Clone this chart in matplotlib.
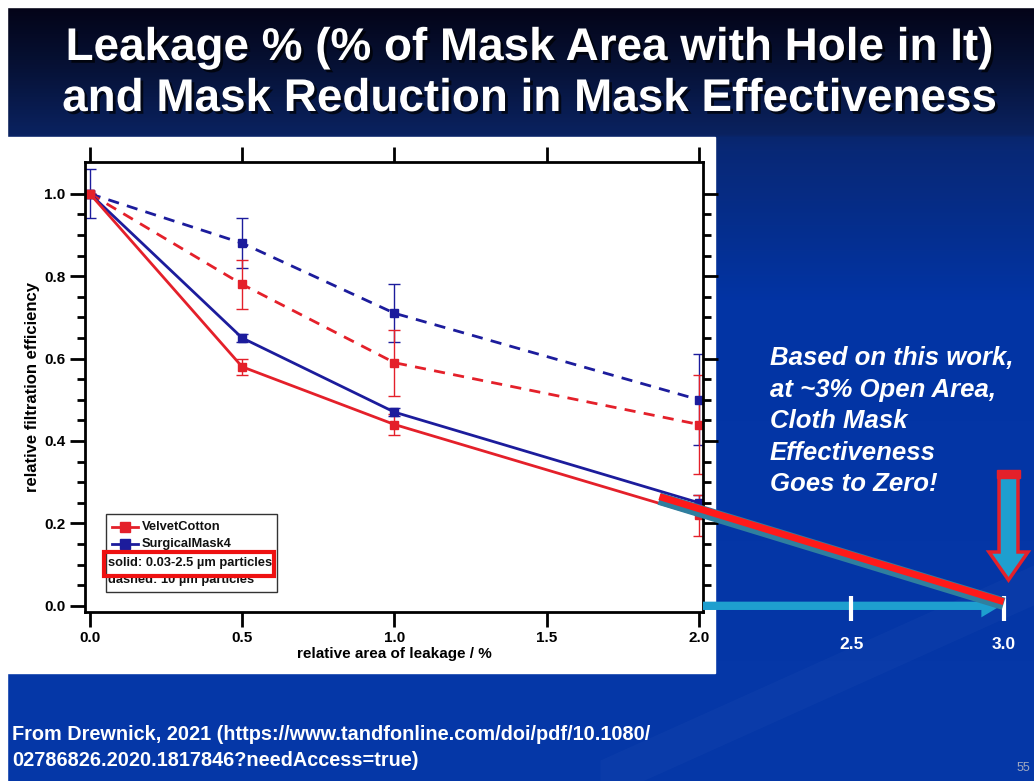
import numpy as np
import matplotlib
matplotlib.use("Agg")
import matplotlib.pyplot as plt
import matplotlib.patheffects as pe
from matplotlib.patches import Rectangle, Polygon
from matplotlib.lines import Line2D

plt.rcParams['font.family'] = ['Liberation Sans', 'DejaVu Sans']

# --- data ---
leakage = [0.0, 0.5, 1.0, 2.0]

velvet_fine = [1.0, 0.58, 0.44, 0.22]
velvet_fine_err = [0.0, 0.02, 0.025, 0.05]
surgical_fine = [1.0, 0.65, 0.47, 0.25]
surgical_fine_err = [0.0, 0.01, 0.01, 0.02]

velvet_coarse = [1.0, 0.78, 0.59, 0.44]
velvet_coarse_err = [0.0, 0.06, 0.08, 0.12]
surgical_coarse = [1.0, 0.88, 0.71, 0.50]
surgical_coarse_err = [0.06, 0.06, 0.07, 0.11]

# hand-drawn extrapolation on the slide
extrap_x = [1.87, 3.0]
extrap_y = [0.265, 0.01]
ext_ticks = [2.5, 3.0]
ext_labels = ["2.5", "3.0"]

title_lines = ["Leakage % (% of Mask Area with Hole in It)",
               "and Mask Reduction in Mask Effectiveness"]
note_lines = ["Based on this work,", "at ~3% Open Area,", "Cloth Mask",
              "Effectiveness", "Goes to Zero!"]
source_lines = ["From Drewnick, 2021 (https://www.tandfonline.com/doi/pdf/10.1080/",
                "02786826.2020.1817846?needAccess=true)"]

RED = "#e4202a"
BLUE = "#1c1c9c"
CYAN = "#1e9fcf"

W, H = 1034, 781
fig = plt.figure(figsize=(W / 100, H / 100), dpi=100)
fig.patch.set_facecolor("white")

# --- slide background in pixel coords ---
bg = fig.add_axes([0, 0, 1, 1])
bg.set_xlim(0, W)
bg.set_ylim(H, 0)
bg.axis("off")

rows = np.arange(H)
stops_y = [7, 60, 134, 137, 150, 300, 781]
stops_c = np.array([[4, 4, 24], [6, 16, 50], [10, 34, 96],
                     [8, 38, 110], [8, 40, 118], [2, 52, 164], [6, 56, 168]]) / 255
grad = np.stack([np.interp(rows, stops_y, stops_c[:, k]) for k in range(3)], axis=1)
img = np.repeat(grad[:, None, :], W, axis=1)
bg.imshow(img, extent=(0, W, H, 0), aspect="auto", zorder=0)
# faint light swoosh in the lower right
xs = np.linspace(600, W, 200)
bg.fill_between(xs, 760 - 0.45 * (xs - 600), 800 - 0.45 * (xs - 600),
                color="white", alpha=0.025, lw=0, zorder=1)
# white margins and white chart panel
bg.add_patch(Rectangle((0, 0), 7, H, color="white", zorder=2))
bg.add_patch(Rectangle((0, 0), W, 7, color="white", zorder=2))
bg.add_patch(Rectangle((7, 137), 708, 536, color="white", zorder=2))

shadow = [pe.SimplePatchShadow(offset=(2, -2), shadow_rgbFace="black", alpha=0.7), pe.Normal()]
for i, line in enumerate(title_lines):
    bg.text(530, 48 + i * 51, line, color="white", fontsize=33, fontweight="bold",
            ha="center", va="center", zorder=5, path_effects=shadow)

for i, line in enumerate(note_lines):
    bg.text(770, 358 + i * 31.5, line, color="white", fontsize=18.5, fontweight="bold",
            fontstyle="italic", ha="left", va="center", zorder=5)

for i, line in enumerate(source_lines):
    bg.text(12, 735 + i * 25, line, color="white", fontsize=14.3, fontweight="bold",
            ha="left", va="center", zorder=5)
bg.text(1030, 768, "55", color="#a0a8c0", fontsize=9, ha="right", va="center", zorder=5)

# down arrow (red outline, cyan fill)
arrow = Polygon([(999, 477), (1018, 477), (1018, 552), (1028, 552), (1008.5, 580),
                 (989, 552), (999, 552)], closed=True, facecolor=CYAN, edgecolor=RED,
                lw=2.5, zorder=5)
bg.add_patch(arrow)
bg.add_patch(Rectangle((997, 470), 23, 8, color=RED, zorder=6))

# --- the chart ---
ax = fig.add_axes([85 / W, (H - 612) / H, (703 - 85) / W, (612 - 162) / H])
ax.set_zorder(2)
ax.set_facecolor("white")
ax.set_xlim(-0.016, 2.013)
ax.set_ylim(-0.015, 1.077)

kw = dict(marker="s", ms=6, lw=2, capsize=4, elinewidth=1, capthick=1)
ax.errorbar(leakage, surgical_coarse, yerr=surgical_coarse_err, color=BLUE, ls=(0, (4, 3)), **kw)
ax.errorbar(leakage, velvet_coarse, yerr=velvet_coarse_err, color=RED, ls=(0, (4, 3)), **kw)
ax.errorbar(leakage, surgical_fine, yerr=surgical_fine_err, color=BLUE, ls="-", **kw)
ax.errorbar(leakage, velvet_fine, yerr=velvet_fine_err, color=RED, ls="-", **kw)

ax.set_xticks([0.0, 0.5, 1.0, 1.5, 2.0])
ax.set_yticks([0.0, 0.2, 0.4, 0.6, 0.8, 1.0])
ax.set_yticks(np.arange(0, 1.05, 0.05), minor=True)
ax.tick_params(which="major", direction="out", length=11, width=2, labelsize=11, pad=3,
               top=True, right=True, labelright=False, labeltop=False)
ax.tick_params(which="minor", direction="out", length=6, width=2, left=True, right=True)
ax.tick_params(axis="x", which="minor", bottom=False, top=False)
for lab in ax.get_xticklabels() + ax.get_yticklabels():
    lab.set_fontweight("bold")
for s in ax.spines.values():
    s.set_linewidth(2)
ax.set_xlabel("relative area of leakage / %", fontsize=11, fontweight="bold", labelpad=1)
ax.set_ylabel("relative filtration efficiency", fontsize=12, fontweight="bold", labelpad=3)

# legend drawn by hand
T = ax.transAxes
def px(x, y):
    return ((x - 85) / (703 - 85), (612 - y) / (612 - 162))
x0, y0 = px(106, 592)
x1, y1 = px(277, 514)
ax.add_patch(Rectangle((x0, y0), x1 - x0, y1 - y0, transform=T, fill=False,
                       edgecolor="#333333", lw=1, zorder=6))
ax.add_patch(Rectangle((x0, y0), x1 - x0, y1 - y0, transform=T, facecolor="white",
                       edgecolor="none", zorder=5))
for label, col, yy in [("VelvetCotton", RED, 527), ("SurgicalMask4", BLUE, 544)]:
    a, b = px(112, yy)
    c, _ = px(138, yy)
    ax.add_line(Line2D([a, c], [b, b], color=col, lw=2, transform=T, zorder=7))
    m, _ = px(125, yy)
    ax.add_line(Line2D([m], [b], color=col, marker="s", ms=7, transform=T, zorder=7))
    t, _ = px(142, yy)
    ax.text(t, b, label, transform=T, fontsize=9.3, fontweight="bold", va="center",
            ha="left", zorder=7, color="#111111")
for label, yy in [("solid: 0.03-2.5 µm particles", 563), ("dashed: 10 µm particles", 580)]:
    a, b = px(108, yy)
    ax.text(a, b, label, transform=T, fontsize=9.3, fontweight="bold", va="center",
            ha="left", zorder=7, color="#111111")
r0, q0 = px(104, 576)
r1, q1 = px(274, 552)
ax.add_patch(Rectangle((r0, q0), r1 - r0, q1 - q0, transform=T, fill=False,
                       edgecolor="#ee1111", lw=3, zorder=8))

# slide overlay: extended axis arrow, ticks and extrapolation line
ax.annotate("", xy=(2.99, 0.0), xytext=(2.013, 0.0), xycoords="data",
            arrowprops=dict(arrowstyle="-|>,head_length=0.5,head_width=0.3", lw=6,
                            color=CYAN, shrinkA=0, shrinkB=0, capstyle="butt",
                            joinstyle="miter"),
            annotation_clip=False, zorder=9)
ax.vlines(ext_ticks, -0.038, 0.024, colors="white", lw=3, clip_on=False, zorder=10)
for v, lab in zip(ext_ticks, ext_labels):
    ax.annotate(lab, xy=(v, 0.0), xytext=(0, -28), textcoords="offset points",
                ha="center", va="center", color="white", fontsize=12.5, fontweight="bold",
                annotation_clip=False, zorder=10)
ax.plot(extrap_x, extrap_y, color="#2f7f9f", lw=9, solid_capstyle="butt", clip_on=False,
        zorder=10, path_effects=[pe.Stroke(offset=(0, -1.5), linewidth=9, foreground="#2f7f9f")])
ax.plot(extrap_x, extrap_y, color="#ff1a1a", lw=5, solid_capstyle="butt", clip_on=False,
        zorder=11)

fig.savefig("out.png", dpi=100)
